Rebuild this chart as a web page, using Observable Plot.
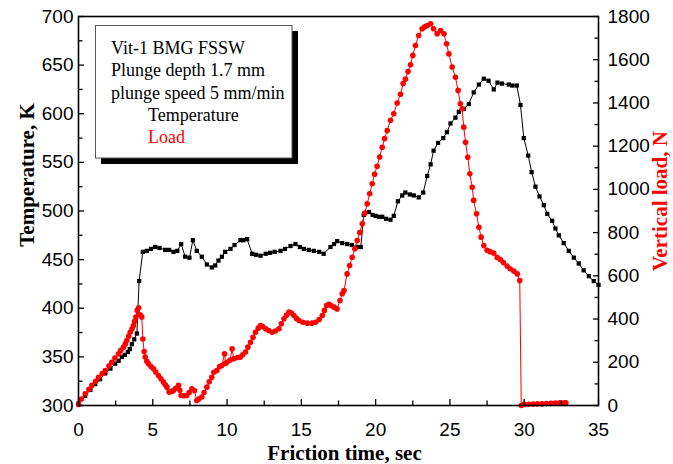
<!DOCTYPE html>
<html><head><meta charset="utf-8">
<script src="https://cdn.jsdelivr.net/npm/d3@7"></script>
<script src="https://cdn.jsdelivr.net/npm/@observablehq/plot@0.6"></script>
<style>html,body{margin:0;padding:0;background:#fff} svg{display:block}</style>
</head><body><div id="chart"></div>
<script>
// ---- data ----
const tempTime = [0,0.45,0.8,1.12,1.45,1.8,2.15,2.47,2.7,2.92,3.12,3.32,3.45,3.59,3.75,3.93,4.08,4.33,4.6,4.88,5.16,5.45,5.83,6.1,6.39,6.65,6.91,7.18,7.47,7.7,7.96,8.3,8.64,8.97,9.2,9.42,9.65,9.87,10.23,10.5,10.9,11.1,11.35,11.69,11.95,12.25,12.6,12.9,13.2,13.6,13.9,14.27,14.6,14.9,15.17,15.5,15.84,16.2,16.5,16.96,17.2,17.41,17.75,18.09,18.4,18.76,19.0,19.2,19.54,19.8,20.0,20.22,20.44,20.7,21.0,21.22,21.5,21.79,22.0,22.3,22.57,22.9,23.2,23.47,23.7,23.9,24.2,24.55,24.8,25.04,25.37,25.6,25.93,26.27,26.6,26.95,27.28,27.6,27.95,28.2,28.5,28.96,29.2,29.5,29.75,29.97,30.27,30.5,30.76,31.03,31.32,31.55,31.88,32.1,32.33,32.66,33.0,33.34,33.67,34.0,34.35,34.68,35.0];
const tempK = [302,310,316,322,327,333,338,343,346,350,352,355,358,363,368,374,428,458,459,461,463,462,460,460,458,459,466,453,452,470,459,453,445,442,444,449,453,458,461,465,470,470,471,456,455,454,456,457,458,459,461,464,466,463,461,460,459,458,456,463,466,469,467,466,465,463,463,496,499,496,495,494,494,492,491,495,510,516,519,517,516,514,519,536,548,562,570,575,581,590,596,602,605,610,622,630,636,634,625,632,631,630,629,629,609,575,557,540,525,515,506,497,490,482,475,467,459,452,446,439,433,428,424];

const loadTime = [0,0.2,0.45,0.7,0.9,1.15,1.35,1.6,1.8,2.05,2.24,2.45,2.69,2.85,3.03,3.15,3.25,3.38,3.48,3.6,3.7,3.78,3.86,3.95,4.05,4.15,4.26,4.33,4.42,4.49,4.6,4.71,4.88,5.05,5.2,5.38,5.55,5.72,5.85,5.95,6.1,6.25,6.39,6.55,6.73,6.82,6.91,7.1,7.29,7.45,7.63,7.8,7.96,8.1,8.3,8.45,8.64,8.8,8.97,9.11,9.31,9.5,9.65,9.83,9.9,10.0,10.2,10.34,10.45,10.7,10.9,11.05,11.24,11.4,11.58,11.75,11.91,12.1,12.25,12.4,12.6,12.8,13.04,13.25,13.49,13.65,13.83,14.0,14.17,14.33,14.5,14.67,14.84,15.1,15.4,15.7,15.96,16.2,16.41,16.55,16.7,16.85,17.0,17.2,17.4,17.6,17.75,17.87,18.08,18.25,18.42,18.6,18.76,18.93,19.1,19.27,19.43,19.6,19.77,19.93,20.1,20.27,20.44,20.6,20.78,21.0,21.22,21.45,21.67,21.85,22.0,22.18,22.35,22.5,22.68,22.9,23.13,23.3,23.47,23.7,23.9,24.14,24.37,24.6,24.77,24.93,25.15,25.37,25.55,25.7,25.82,25.93,26.05,26.2,26.34,26.5,26.6,26.79,26.95,27.1,27.28,27.5,27.7,27.95,28.18,28.4,28.6,28.85,29.05,29.3,29.53,29.7,29.8,30.0,30.3,30.6,30.9,31.2,31.5,31.8,32.1,32.4,32.7,32.8];
const loadN = [5,30,54,75,93,112,131,148,162,183,200,220,239,255,270,285,301,320,339,355,370,390,409,440,452,420,409,308,250,224,205,193,180,170,155,139,124,108,95,85,62,65,69,80,93,70,46,45,46,60,77,69,23,30,39,60,85,110,131,154,162,180,185,239,195,200,210,262,216,222,224,235,247,270,293,316,339,358,370,365,355,347,339,345,355,378,401,418,432,428,416,403,393,385,381,381,385,398,416,440,463,468,463,455,447,486,517,532,609,648,686,725,763,800,841,890,933,980,1026,1070,1107,1150,1195,1235,1272,1320,1350,1400,1440,1490,1510,1545,1577,1620,1666,1712,1743,1752,1758,1766,1743,1720,1735,1720,1674,1627,1566,1519,1458,1396,1373,1288,1218,1149,1072,1010,949,887,825,779,740,718,712,705,685,675,662,645,633,622,609,578,0,5,6,7,8,8,9,10,11,12,13,13];

const xMajor = [0,5,10,15,20,25,30,35];
const xMinor = [2.5,7.5,12.5,17.5,22.5,27.5,32.5];
const tempMajor = [300,350,400,450,500,550,600,650,700];
const tempMinor = [325,375,425,475,525,575,625,675];
const loadMajor = [0,200,400,600,800,1000,1200,1400,1600,1800];
const loadMinor = [100,300,500,700,900,1100,1300,1500,1700];

const xTitle = "Friction time, sec";
const yTitle = "Temperature, K";
const y2Title = "Vertical load, N";
const legendLines = ["Vit-1 BMG FSSW", "Plunge depth 1.7 mm", "plunge speed 5 mm/min"];
const seriesNames = ["Temperature", "Load"];
const seriesColors = ["#000000", "#ff0000"];

// ---- helpers ----
const T0 = 300, T1 = 700, LMAX = 1800;
const toT = n => T0 + n * (T1 - T0) / LMAX;
const fromT = t => (t - T0) * LMAX / (T1 - T0);
const temp = tempTime.map((t, i) => ({t, v: tempK[i]}));
const load = loadTime.map((t, i) => ({t, v: loadN[i]}));

const tickStyle = {strokeWidth: 1.3, stroke: "#000", label: null};
const titleFont = {fontFamily: "Liberation Serif, Times New Roman, serif", fontWeight: "bold", fontSize: 21, textAnchor: "middle", lineAnchor: "middle"};

const chart = Plot.plot({
  width: 673, height: 464,
  marginLeft: 78, marginRight: 75, marginTop: 16, marginBottom: 59,
  x: {domain: [0, 35]},
  y: {domain: [300, 700]},
  style: {fontFamily: "Liberation Sans, Arial, sans-serif", fontSize: "19px", color: "#000", background: "#fff", overflow: "visible"},
  marks: [
    Plot.line(temp, {x: "t", y: "v", stroke: seriesColors[0], strokeWidth: 1}),
    Plot.dot(temp, {x: "t", y: "v", symbol: "square", r: 2.4, fill: seriesColors[0], stroke: "none"}),
    Plot.line(load, {x: "t", y: d => toT(d.v), stroke: seriesColors[1], strokeWidth: 1}),
    Plot.dot(load, {x: "t", y: d => toT(d.v), r: 2.8, fill: seriesColors[1], stroke: "none"}),
    Plot.frame({stroke: "#000", strokeWidth: 1.6}),
    Plot.axisX(xMajor, {anchor: "bottom", tickSize: -6, tickPadding: 22.5, tickFormat: d => String(d), fontSize: 19, ...tickStyle}),
    Plot.axisX(xMinor, {anchor: "bottom", tickSize: -4.5, tickFormat: () => "", ...tickStyle}),
    Plot.axisY(tempMajor, {anchor: "left", tickSize: -6, tickPadding: 11, tickFormat: d => String(d), fontSize: 19, ...tickStyle}),
    Plot.axisY(tempMinor, {anchor: "left", tickSize: -4.5, tickFormat: () => "", ...tickStyle}),
    Plot.axisY(loadMajor.map(toT), {anchor: "right", tickSize: -6, tickPadding: 15, tickFormat: d => String(Math.round(fromT(d))), fontSize: 19, ...tickStyle}),
    Plot.axisY(loadMinor.map(toT), {anchor: "right", tickSize: -4.5, tickFormat: () => "", ...tickStyle}),
    Plot.text([xTitle], {frameAnchor: "bottom", text: d => d, dx: 6, dy: 48, fill: "#000", ...titleFont}),
    Plot.text([yTitle], {frameAnchor: "left", text: d => d, rotate: -90, dx: -51, dy: -36, fill: "#000", ...titleFont}),
    Plot.text([y2Title], {frameAnchor: "right", text: d => d, rotate: -90, dx: 62, dy: -10, fill: "#ff0000", ...titleFont})
  ]
});
document.getElementById("chart").appendChild(chart);

// ---- legend box ----
const svg = d3.select(chart);
const g = svg.append("g")
  .attr("font-family", "Liberation Serif, Times New Roman, serif")
  .attr("font-size", 18)
  .attr("text-anchor", "start");
g.append("rect").attr("x", 101).attr("y", 31).attr("width", 197).attr("height", 133).attr("fill", "#000");
g.append("rect").attr("x", 95.5).attr("y", 25.5).attr("width", 196.5).attr("height", 132.5).attr("fill", "#fff").attr("stroke", "#555").attr("stroke-width", 1);
legendLines.forEach((s, i) => g.append("text").attr("x", 111).attr("y", 54 + 22.3 * i).attr("fill", "#000").text(s));
seriesNames.forEach((s, i) => g.append("text").attr("x", 148).attr("y", 54 + 22.3 * (3 + i)).attr("fill", seriesColors[i]).text(s));
</script>
</body></html>
